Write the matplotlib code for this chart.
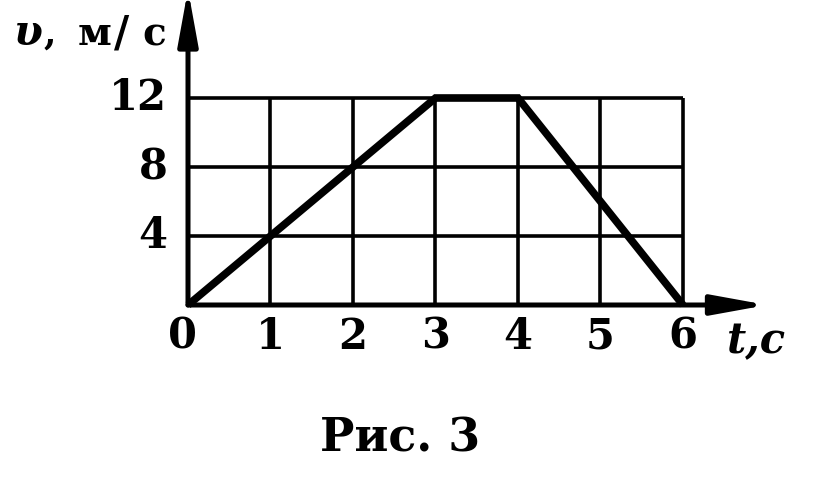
import matplotlib
matplotlib.use("Agg")
import matplotlib.pyplot as plt

# Data
t_values = [0, 3, 4, 6]
v_values = [0, 12, 12, 0]
x_ticks = [0, 1, 2, 3, 4, 5, 6]
y_ticks = [4, 8, 12]
x_tick_labels = ["0", "1", "2", "3", "4", "5", "6"]
y_tick_labels = ["4", "8", "12"]

W, H = 820, 480
fig = plt.figure(figsize=(W / 100, H / 100), dpi=100)
fig.patch.set_facecolor("white")

x0, x6 = 188, 683
y0, y12 = 305, 98
ax = fig.add_axes([x0 / W, 1 - y0 / H, (x6 - x0) / W, (y0 - y12) / H])
ax.set_xlim(0, 6)
ax.set_ylim(0, 12)
ax.axis("off")

serif = ["DejaVu Serif"]

# grid
for xv in x_ticks[1:]:
    ax.plot([xv, xv], [0, 12], color="black", lw=2.6, solid_capstyle="butt", clip_on=False)
for yv in y_ticks:
    ax.plot([0, 6], [yv, yv], color="black", lw=2.6, solid_capstyle="butt", clip_on=False)

# axes with arrows
arrow_style = "-|>,head_length=3.3,head_width=0.6"
ax.annotate("", xy=(7.02, 0), xytext=(0, 0), xycoords="data",
            arrowprops=dict(arrowstyle=arrow_style, color="black", lw=3.6,
                            shrinkA=0, shrinkB=0),
            annotation_clip=False)
ax.annotate("", xy=(0, 18.3), xytext=(0, 0), xycoords="data",
            arrowprops=dict(arrowstyle=arrow_style, color="black", lw=3.6,
                            shrinkA=0, shrinkB=0),
            annotation_clip=False)

# data line
ax.plot(t_values, v_values, color="black", lw=5.5, solid_joinstyle="miter",
        solid_capstyle="butt", clip_on=False, zorder=5)

# tick labels
for xv, lab in zip(x_ticks, x_tick_labels):
    dx = -0.07 if xv == 0 else 0
    ax.text(xv + dx, -1.85, lab, ha="center", va="center", fontsize=30,
            fontweight="bold", family=serif)
for yv, lab in zip(y_ticks, y_tick_labels):
    ax.text(-0.25, yv, lab, ha="right", va="center", fontsize=30,
            fontweight="bold", family=serif)

# axis labels
base = 1 - 45 / H
fig.text(14 / W, base, "υ", fontsize=30, fontstyle="italic",
         fontweight="bold", family=serif, ha="left", va="baseline")
fig.text(44 / W, base, ",", fontsize=26, fontweight="bold",
         family=serif, ha="left", va="baseline")
fig.text(78 / W, base, "м", fontsize=28, fontweight="bold",
         family=serif, ha="left", va="baseline")
fig.text(114 / W, base, "/", fontsize=30, fontweight="bold",
         family=serif, ha="left", va="baseline")
fig.text(142 / W, base, "с", fontsize=28, fontweight="bold",
         family=serif, ha="left", va="baseline")
fig.text(727 / W, 1 - 353 / H, "t,c", fontsize=30, fontstyle="italic",
         fontweight="bold", family=serif, ha="left", va="baseline")

# caption
fig.text(400 / W, 1 - 438 / H, "Рис. 3", fontsize=33, fontweight="bold",
         family=serif, ha="center", va="center")

fig.savefig("out.png", dpi=100, facecolor="white")
